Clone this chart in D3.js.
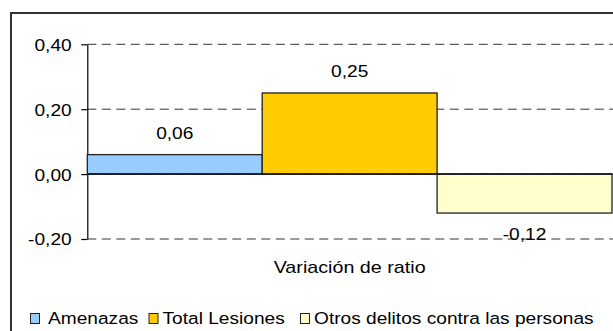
<!DOCTYPE html>
<html>
<head>
<meta charset="utf-8">
<script src="https://cdn.jsdelivr.net/npm/d3@7"></script>
<style>
  html, body { margin: 0; padding: 0; background: #fff; }
  svg { display: block; }
  text { font-family: "Liberation Sans", Arial, Helvetica, sans-serif; fill: #000; }
</style>
</head>
<body>
<svg id="chart" width="613" height="331"></svg>
<script>
// Variación de ratio por tipo de delito
const categories = ["Amenazas", "Total Lesiones", "Otros delitos contra las personas"];
const values = [0.06, 0.25, -0.12];
const colors = ["#99CCFF", "#FFCC00", "#FFFFCC"];
const yTicks = [-0.2, 0, 0.2, 0.4];
const axisTitle = "Variación de ratio";

const W = 613, H = 331;
const stretch = 1.16;           // text is drawn slightly wide
const fontSize = 16.5;
const plot = { left: 87.3, right: 612, top: 44.3, bottom: 239 };
const legendX = [30.5, 149, 300.5];
const legendY = 313.5;

const es = d3.formatLocale({ decimal: ",", thousands: ".", grouping: [3], currency: ["", " €"], minus: "-" });
const fmt = es.format(".2f");

const svg = d3.select("#chart");

// outer frame
svg.append("rect")
  .attr("x", 11).attr("y", 13)
  .attr("width", 700).attr("height", 400)
  .attr("fill", "#fff").attr("stroke", "#333").attr("stroke-width", 2);

const x = d3.scaleBand().domain(categories).range([plot.left, plot.right]).padding(0);
const y = d3.scaleLinear().domain([-0.2, 0.4]).range([plot.bottom, plot.top]);

// dashed gridlines
svg.append("g").selectAll("line")
  .data(yTicks)
  .join("line")
  .attr("x1", plot.left).attr("x2", W)
  .attr("y1", d => y(d)).attr("y2", d => y(d))
  .attr("stroke", "#333").attr("stroke-width", 1)
  .attr("stroke-dasharray", "9,5.5");

// y axis
const yAxis = svg.append("g")
  .attr("transform", `translate(${plot.left},0)`)
  .call(d3.axisLeft(y).tickValues(yTicks).tickSize(6).tickSizeOuter(0).tickFormat(fmt));
yAxis.select(".domain").attr("stroke", "#000").attr("stroke-width", 1.2);
yAxis.selectAll(".tick line").attr("stroke", "#000").attr("stroke-width", 1.2);
yAxis.selectAll(".tick text")
  .attr("x", null).attr("dy", "0.36em")
  .attr("text-anchor", "end")
  .attr("transform", `translate(-15.6,0) scale(${stretch},1)`)
  .style("font-size", fontSize + "px")
  .style("font-family", '"Liberation Sans", Arial, sans-serif')
  .attr("fill", "#000");

// bars
svg.append("g").selectAll("rect")
  .data(categories)
  .join("rect")
  .attr("x", d => x(d))
  .attr("width", x.bandwidth())
  .attr("y", (d, i) => y(Math.max(0, values[i])))
  .attr("height", (d, i) => Math.abs(y(values[i]) - y(0)))
  .attr("fill", (d, i) => colors[i])
  .attr("stroke", "#222").attr("stroke-width", 1.3);

// zero line
svg.append("line")
  .attr("x1", plot.left).attr("x2", plot.right)
  .attr("y1", y(0)).attr("y2", y(0))
  .attr("stroke", "#111").attr("stroke-width", 1.5);

// value labels
svg.append("g").selectAll("text")
  .data(categories)
  .join("text")
  .attr("text-anchor", "middle")
  .attr("transform", (d, i) => {
    const v = values[i];
    const ty = v >= 0 ? y(v) - 15.6 : y(v) + 26.5;
    return `translate(${x(d) + x.bandwidth() / 2},${ty}) scale(${stretch},1)`;
  })
  .style("font-size", fontSize + "px")
  .text((d, i) => fmt(values[i]));

// axis title
svg.append("text")
  .attr("text-anchor", "middle")
  .attr("transform", `translate(${(plot.left + plot.right) / 2},273.3) scale(${stretch},1)`)
  .style("font-size", "17px")
  .text(axisTitle);

// legend
const leg = svg.append("g").selectAll("g")
  .data(categories)
  .join("g")
  .attr("transform", (d, i) => `translate(${legendX[i]},${legendY})`);
leg.append("rect")
  .attr("x", 0).attr("y", 0).attr("width", 9).attr("height", 10)
  .attr("fill", (d, i) => colors[i])
  .attr("stroke", "#222").attr("stroke-width", 1);
leg.append("text")
  .attr("transform", (d, i) => `translate(${i === 0 ? 17.5 : 13.5},10) scale(${stretch},1)`)
  .style("font-size", fontSize + "px")
  .text(d => d);
</script>
</body>
</html>
